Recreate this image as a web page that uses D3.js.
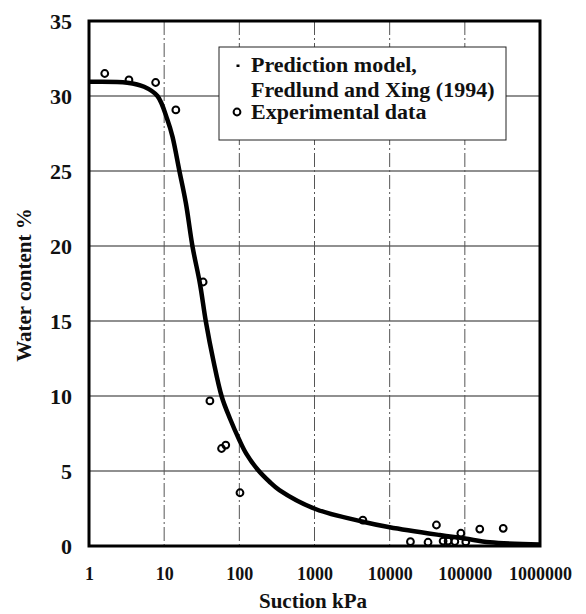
<!DOCTYPE html>
<html>
<head>
  <meta charset="utf-8">
  <script src="https://d3js.org/d3.v7.min.js"></script>
  <style>
    body { margin: 0; background: #fff; }
    text { font-family: "Liberation Serif", "Times New Roman", serif; fill: #111; }
  </style>
</head>
<body>
<script>
// values
var suctionTicks = [1, 10, 100, 1000, 10000, 100000, 1000000];
var waterTicks = [0, 5, 10, 15, 20, 25, 30, 35];

// Fredlund and Xing (1994) prediction curve
var curveSuction = [1, 3.24, 5.41, 8.14, 11.07, 12.9, 15.85, 19.46, 23.85, 29.9, 35.9, 45, 58.4, 75, 100, 123, 175, 250, 341, 1050, 4410, 10000, 46400, 100000, 215000, 1000000];
var curveWater = [30.95, 30.89, 30.62, 30.0, 28.4, 27.29, 25.07, 22.85, 19.95, 17.5, 14.95, 12.4, 9.95, 8.5, 7.07, 6.18, 5.1, 4.3, 3.73, 2.45, 1.62, 1.25, 0.73, 0.5, 0.25, 0.1];

// experimental data
var expSuction = [1.62, 3.4, 7.7, 14.3, 33, 40.6, 58, 66, 102, 4400, 18900, 32400, 41900, 51400, 59900, 73600, 88500, 103000, 158000, 324000];
var expWater = [31.5, 31.07, 30.9, 29.07, 17.6, 9.67, 6.5, 6.73, 3.55, 1.73, 0.29, 0.25, 1.4, 0.33, 0.33, 0.3, 0.85, 0.27, 1.13, 1.18];

var legendLines = ["Prediction model,", "Fredlund and Xing (1994)", "Experimental data"];

var W = 586, H = 614;
var pLeft = 89, pRight = 540, pTop = 21, pBottom = 546;

var svg = d3.select("body").append("svg")
  .attr("width", W)
  .attr("height", H);

var x = d3.scaleLog().domain([1, 1000000]).range([pLeft, pRight]);
var y = d3.scaleLinear().domain([0, 35]).range([pBottom, pTop]);

// grid
svg.append("g").selectAll("line")
  .data(waterTicks.filter(function(d) { return d > 0 && d < 35; }))
  .enter().append("line")
  .attr("x1", pLeft).attr("x2", pRight)
  .attr("y1", function(d) { return y(d); })
  .attr("y2", function(d) { return y(d); })
  .style("stroke", "#222")
  .style("stroke-width", 1.2);

svg.append("g").selectAll("line")
  .data(suctionTicks.slice(1, -1))
  .enter().append("line")
  .attr("x1", function(d) { return x(d); })
  .attr("x2", function(d) { return x(d); })
  .attr("y1", pTop).attr("y2", pBottom)
  .style("stroke", "#555")
  .style("stroke-width", 1)
  .style("stroke-dasharray", "14,3,2,3");

// curve
var line = d3.line()
  .x(function(d) { return x(d[0]); })
  .y(function(d) { return y(d[1]); })
  .curve(d3.curveCatmullRom.alpha(0.5));

svg.append("path")
  .datum(d3.zip(curveSuction, curveWater))
  .attr("d", line)
  .style("fill", "none")
  .style("stroke", "#000")
  .style("stroke-width", 4.5);

// points
svg.append("g").selectAll("circle")
  .data(d3.zip(expSuction, expWater))
  .enter().append("circle")
  .attr("cx", function(d) { return x(d[0]); })
  .attr("cy", function(d) { return y(d[1]); })
  .attr("r", 3.4)
  .style("fill", "none")
  .style("stroke", "#000")
  .style("stroke-width", 2);

// frame
svg.append("rect")
  .attr("x", pLeft).attr("y", pTop)
  .attr("width", pRight - pLeft).attr("height", pBottom - pTop)
  .style("fill", "none")
  .style("stroke", "#000")
  .style("stroke-width", 3);

// axes (labels only)
var yAxis = svg.append("g")
  .attr("transform", "translate(" + (pLeft - 17) + ",0)")
  .call(d3.axisLeft(y).tickValues(waterTicks).tickSize(0).tickPadding(0));
yAxis.select(".domain").remove();
yAxis.selectAll("text")
  .style("font-size", "22px")
  .style("font-weight", "bold")
  .style("font-family", "'Liberation Serif', serif");

var xAxis = svg.append("g")
  .attr("transform", "translate(0," + (pBottom + 21) + ")")
  .call(d3.axisBottom(x).tickValues(suctionTicks).tickFormat(d3.format("d")).tickSize(0).tickPadding(0));
xAxis.select(".domain").remove();
xAxis.selectAll("text")
  .style("font-size", "18px")
  .style("font-weight", "bold")
  .style("font-family", "'Liberation Serif', serif");

// axis titles
svg.append("text")
  .attr("x", 313).attr("y", 608)
  .attr("text-anchor", "middle")
  .style("font-size", "21px")
  .style("font-weight", "bold")
  .text("Suction kPa");

svg.append("text")
  .attr("transform", "translate(31,285) rotate(-90)")
  .attr("text-anchor", "middle")
  .style("font-size", "21px")
  .style("font-weight", "bold")
  .text("Water content %");

// legend
var lg = svg.append("g");
lg.append("rect")
  .attr("x", 219).attr("y", 47)
  .attr("width", 287).attr("height", 93)
  .style("fill", "#fff")
  .style("stroke", "#222")
  .style("stroke-width", 1);

lg.append("rect")
  .attr("x", 236.5).attr("y", 64.5)
  .attr("width", 3).attr("height", 2.5)
  .style("fill", "#000");

lg.append("circle")
  .attr("cx", 237).attr("cy", 112)
  .attr("r", 3.4)
  .style("fill", "none")
  .style("stroke", "#000")
  .style("stroke-width", 2);

lg.selectAll("text.lt")
  .data(legendLines)
  .enter().append("text")
  .attr("class", "lt")
  .attr("x", 251)
  .attr("y", function(d, i) { return [72, 97, 119][i]; })
  .style("font-size", "22px")
  .style("font-weight", "bold")
  .text(function(d) { return d; });
</script>
</body>
</html>
